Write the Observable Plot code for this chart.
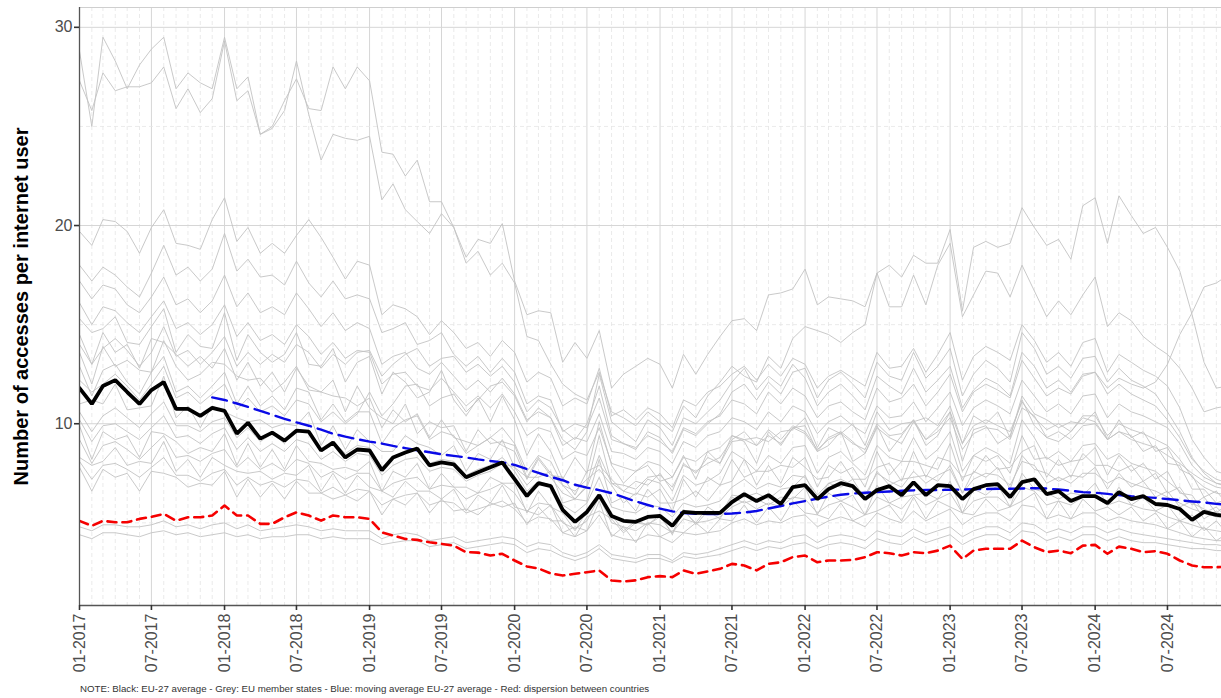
<!DOCTYPE html>
<html><head><meta charset="utf-8">
<script src="https://cdn.jsdelivr.net/npm/d3@7"></script>
<script src="https://cdn.jsdelivr.net/npm/@observablehq/plot@0.6"></script>
<style>
body{margin:0;background:#fff;font-family:"Liberation Sans",Arial,sans-serif;}
#note{font-size:9.7px;color:#333;margin-left:80px;margin-top:5px;white-space:nowrap;}
</style></head><body>
<div id="chart"></div>
<div id="note">NOTE: Black: EU-27 average - Grey: EU member states - Blue: moving average EU-27 average - Red: dispersion between countries</div>
<script>
// ---- labels ----
const yTitle = "Number of accesses per internet user";
const xTickLabels = ["01-2017","07-2017","01-2018","07-2018","01-2019","07-2019","01-2020","07-2020","01-2021","07-2021","01-2022","07-2022","01-2023","07-2023","01-2024","07-2024"];
const yTicks = [10, 20, 30];
const yMinor = [5, 15, 25];
const firstMonth = "01-2017";
const blueFirstMonth = "12-2017";

// ---- EU-27 average (black) ----
const euAverage = [
11.8,11.0,11.9,12.2,11.6,11.0,11.7,12.1,10.75,10.75,10.4,10.8,
10.65,9.5,10.05,9.25,9.55,9.15,9.65,9.6,8.65,9.05,8.3,8.7,
8.65,7.65,8.3,8.55,8.75,7.9,8.05,7.95,7.3,7.55,7.8,8.05,
7.2,6.35,7.0,6.85,5.65,5.05,5.55,6.4,5.35,5.1,5.05,5.3,
5.35,4.85,5.55,5.5,5.5,5.5,6.05,6.45,6.1,6.4,5.95,6.8,
6.9,6.2,6.7,7.0,6.85,6.2,6.65,6.85,6.4,7.05,6.4,6.9,
6.85,6.2,6.7,6.9,6.95,6.3,7.05,7.2,6.45,6.6,6.1,6.35,
6.35,6.0,6.55,6.2,6.35,5.95,5.9,5.7,5.15,5.55,5.4,5.35];

// ---- moving average (blue), from 12-2017 ----
const movingAverage = [
11.33,11.2,11.02,10.85,10.65,10.45,10.25,10.07,9.9,9.7,9.5,9.35,9.22,
9.1,9.0,8.88,8.77,8.66,8.56,8.46,8.38,8.3,8.2,8.12,8.05,
7.92,7.72,7.52,7.32,7.15,6.92,6.78,6.65,6.5,6.3,6.08,5.9,
5.72,5.58,5.5,5.46,5.45,5.45,5.47,5.52,5.6,5.72,5.85,5.98,
6.1,6.22,6.32,6.42,6.48,6.52,6.55,6.58,6.62,6.64,6.66,6.66,
6.67,6.68,6.7,6.71,6.72,6.72,6.73,6.75,6.73,6.68,6.62,6.55,
6.52,6.46,6.4,6.34,6.3,6.26,6.2,6.14,6.08,6.03,5.96,5.9];

// ---- dispersion (red) ----
const dispersion = [
5.1,4.85,5.1,5.03,5.03,5.2,5.3,5.45,5.11,5.28,5.28,5.37,
5.87,5.37,5.37,4.95,4.95,5.28,5.53,5.37,5.11,5.37,5.28,5.28,
5.2,4.52,4.36,4.19,4.14,4.02,3.94,3.85,3.52,3.5,3.35,3.44,
3.1,2.8,2.7,2.45,2.34,2.43,2.51,2.6,2.09,2.04,2.1,2.26,
2.31,2.26,2.6,2.43,2.55,2.68,2.93,2.85,2.6,2.93,3.01,3.27,
3.35,3.01,3.1,3.1,3.13,3.27,3.52,3.47,3.35,3.52,3.47,3.6,
3.85,3.18,3.6,3.69,3.69,3.69,4.1,3.77,3.52,3.6,3.47,3.85,
3.89,3.44,3.8,3.69,3.52,3.57,3.44,3.1,2.85,2.76,2.76,2.8];

// ---- member states (grey) ----
const countries = ["A","B","C","D","E","F","G","H","I","J","K","L","M","N","O","P","Q","R","S","T","U","V"];
const sA = [28.8,25.0,29.5,28.3,26.9,28.1,28.9,29.5,26.9,27.7,27.2,26.9,
29.5,26.9,27.5,24.6,25.0,26.3,27.4,25.9,25.8,28.0,26.9,28.0,
27.3,23.7,23.6,22.5,23.3,21.2,21.2,19.9,18.4,19.3,19.1,20.1,
17.2,15.5,15.7,15.6,13.1,14.1,13.3,14.7,11.8,12.5,12.9,13.3,
13.0,11.8,13.5,12.5,13.5,14.4,15.2,15.3,14.7,16.5,16.6,16.8,
17.8,16.0,16.4,16.3,16.2,15.9,17.6,18.0,17.4,18.5,18.1,18.1,
19.8,15.7,18.9,19.2,18.9,19.1,20.9,19.9,19.0,19.3,18.3,21.0,
21.4,19.1,21.5,20.5,19.6,19.9,18.9,17.7,15.5,13.1,11.8,11.9];
const sB = [27.3,25.8,27.7,26.8,27.0,27.0,27.2,28.0,25.9,26.9,25.7,26.4,
29.3,26.3,26.8,24.6,24.9,25.8,28.3,25.6,23.3,24.6,24.4,24.3,
24.5,21.3,22.1,20.8,20.2,19.6,20.6,19.9,18.1,18.7,17.5,18.1,
17.1,14.4,14.2,13.0,12.0,11.5,11.2,12.6,10.6,10.3,9.9,10.6,
10.1,9.6,10.9,10.3,11.4,12.1,12.9,12.4,12.1,13.4,12.8,14.3,
14.9,14.7,14.5,14.1,14.6,15.0,17.6,15.9,15.9,17.5,16.0,18.0,
19.1,15.4,16.5,17.7,17.6,16.4,18.0,16.7,15.4,16.2,15.5,16.5,
17.4,14.9,15.6,15.2,14.4,13.9,13.5,12.8,11.8,10.6,10.8,10.9];
const sC = [19.7,19.0,20.3,20.2,19.7,18.6,19.9,20.8,19.1,19.0,18.8,20.3,
21.4,19.2,19.9,18.6,19.1,18.6,19.5,20.3,19.4,18.4,17.3,18.2,
18.0,15.5,16.0,15.8,15.4,14.5,15.2,14.6,13.8,14.1,13.4,14.2,
13.6,12.1,12.6,12.3,10.9,11.3,11.0,12.8,10.4,10.7,10.2,10.8,
10.5,9.8,11.2,10.9,11.6,11.9,12.5,12.9,12.2,13.0,12.4,13.3,
13.0,11.8,12.4,12.7,12.3,11.9,13.6,12.8,12.9,13.8,12.6,13.5,
14.6,12.2,13.4,13.9,13.6,13.2,15.0,14.2,13.1,13.6,12.9,14.1,
14.3,12.6,13.5,13.1,12.7,12.4,11.9,10.8,9.2,8.3,7.6,7.4];
const sD = [18.0,17.2,17.9,17.5,16.9,16.4,17.6,19.0,17.5,17.9,17.2,17.8,
19.6,17.7,18.3,17.4,17.5,17.0,18.2,17.1,16.4,17.2,16.3,16.5,
16.3,14.6,14.8,15.1,14.0,14.2,14.6,13.5,12.9,13.4,12.6,13.3,
12.6,11.0,11.4,11.2,9.6,10.0,9.8,11.3,9.2,9.0,8.8,9.4,
9.1,8.6,9.8,9.5,10.1,10.4,11.2,11.0,10.5,11.6,11.0,11.8,
11.4,10.3,10.9,11.1,10.6,10.2,11.8,11.1,11.3,12.0,10.9,11.6,
12.5,10.6,11.6,12.0,11.7,11.3,13.2,12.3,11.4,11.8,11.5,12.4,
12.6,11.8,12.3,12.0,11.8,12.1,13.0,14.5,15.6,16.9,17.1,17.5];
const sE = [17.2,16.3,17.0,16.8,16.0,15.6,16.4,17.4,16.0,16.3,15.6,16.2,
17.5,15.9,16.6,15.6,15.9,15.5,16.6,15.8,14.9,15.6,14.7,15.1,
14.8,13.0,13.4,13.6,12.8,12.5,13.1,12.4,11.7,12.2,11.6,12.3,
11.5,10.2,10.6,10.3,8.9,9.3,9.1,10.5,8.6,8.5,8.2,8.8,
8.6,8.0,9.1,8.8,9.4,9.6,10.3,10.1,9.7,10.6,10.1,10.9,
10.6,9.5,10.1,10.4,9.9,9.5,10.9,10.3,10.4,11.1,10.1,10.8,
11.6,9.9,10.8,11.2,10.9,10.5,12.2,11.4,10.6,11.0,10.5,11.4,
11.5,10.3,11.0,10.6,10.4,10.1,9.8,9.0,7.9,7.3,7.0,6.9];
const sF = [16.1,15.0,15.9,15.7,15.1,14.6,15.4,16.2,14.8,15.1,14.5,15.0,
16.0,14.4,15.1,14.2,14.5,14.0,15.0,14.4,13.5,14.1,13.3,13.7,
13.6,12.0,12.5,12.6,11.9,11.7,12.3,11.6,10.9,11.4,10.8,11.5,
10.6,9.4,9.8,9.6,8.2,8.6,8.4,9.8,8.0,7.8,7.6,8.1,
7.9,7.3,8.3,8.1,8.6,8.8,9.4,9.2,8.9,9.7,9.2,9.9,
9.6,8.7,9.2,9.5,9.0,8.7,10.0,9.4,9.5,10.2,9.2,9.8,
10.6,9.0,9.9,10.2,9.9,9.6,11.1,10.3,9.7,10.0,9.6,10.4,
10.4,9.4,10.0,9.7,9.5,9.2,8.9,8.2,7.3,6.8,6.5,6.4];
const sG = [15.3,14.6,14.8,15.4,14.1,14.0,14.9,15.8,13.6,14.5,13.9,13.8,
15.6,13.2,14.5,13.6,13.1,13.5,14.6,13.0,12.9,13.8,12.1,13.1,
13.4,11.5,12.6,12.1,11.3,11.6,12.7,11.2,10.4,11.3,10.1,11.4,
10.2,8.4,9.5,8.6,7.2,8.3,7.5,10.1,7.9,7.0,7.6,7.9,
7.1,7.3,8.4,7.2,8.6,8.0,9.4,9.1,8.0,9.6,8.9,9.8,
9.5,8.6,8.9,9.6,8.1,8.5,9.9,8.6,9.4,10.2,8.9,9.4,
10.6,8.1,9.7,9.9,9.0,9.4,11.2,9.9,9.3,9.1,9.6,10.3,
10.1,9.2,9.6,9.4,8.6,8.9,8.0,7.9,6.7,6.7,6.0,6.2];
const sH = [14.5,13.0,14.6,13.6,14.0,12.8,14.3,14.1,13.5,12.9,13.4,12.8,
13.8,12.2,13.1,11.9,12.6,11.6,12.8,11.9,11.6,11.4,11.3,10.9,
11.3,9.8,10.7,10.1,10.5,9.3,10.2,9.3,9.1,8.9,9.3,8.9,
8.6,7.2,8.2,7.4,7.3,6.4,7.6,7.9,7.2,6.6,7.1,6.9,
7.5,6.6,8.0,7.5,8.3,8.0,9.1,9.2,9.3,9.1,9.6,9.7,
10.3,8.8,9.8,9.5,10.0,8.9,10.6,9.7,10.0,10.1,10.3,9.9,
10.9,9.0,10.4,10.0,10.6,9.3,11.4,10.5,10.2,9.8,10.1,10.0,
10.6,9.2,10.2,9.3,9.6,8.6,8.8,7.7,7.4,6.3,6.6,5.9];
const sI = [13.6,12.0,13.9,12.9,13.2,12.7,12.6,14.2,12.9,12.2,12.5,13.1,
13.0,12.4,12.2,12.3,11.6,12.1,12.9,11.7,11.6,12.2,10.6,11.9,
10.8,10.3,10.0,11.0,9.5,10.1,9.8,9.9,8.6,9.7,9.0,9.1,
8.9,7.3,8.3,7.5,6.9,6.6,7.2,7.7,6.9,6.0,6.5,6.3,
6.7,5.6,7.2,6.3,7.3,6.9,8.2,7.3,7.6,7.6,7.9,7.8,
8.3,6.8,7.9,7.5,7.8,6.8,8.6,7.4,8.1,8.1,7.9,7.7,
9.0,7.1,8.4,8.1,8.4,7.5,9.4,8.2,8.3,7.9,8.1,8.2,
8.8,7.4,8.4,7.6,8.0,7.2,7.6,6.5,6.4,5.5,5.8,5.2];
const sJ = [12.9,11.4,12.7,13.0,12.1,11.5,12.6,13.4,11.6,11.9,11.3,11.9,
12.6,11.0,11.9,10.9,11.4,10.7,11.8,11.6,10.2,11.0,10.1,10.6,
10.6,9.0,9.8,10.2,10.4,9.2,9.6,9.4,8.5,8.9,9.3,9.8,
9.0,7.6,8.4,8.1,6.9,6.2,6.9,9.4,7.0,6.6,6.4,7.2,
7.0,6.1,7.4,6.9,7.1,7.5,8.6,8.2,7.6,8.4,8.0,8.8,
8.9,7.5,8.3,8.6,8.0,7.4,8.9,8.3,8.1,9.3,8.2,8.7,
9.6,7.6,8.4,8.8,8.5,8.0,10.2,9.3,8.2,8.6,8.1,8.9,
9.0,8.2,8.5,8.0,7.8,7.6,7.1,6.6,6.0,5.7,5.4,5.5];
const sK = [11.0,11.2,11.0,12.0,10.7,10.8,10.9,12.4,10.3,10.9,9.8,10.9,
10.6,10.3,10.1,10.2,9.8,10.0,9.9,10.6,8.9,9.9,8.7,9.7,
9.1,8.6,8.6,9.4,9.0,8.8,8.4,8.9,7.6,8.5,8.2,9.2,
7.8,7.3,7.3,7.6,6.0,6.2,6.1,8.2,6.0,6.3,5.6,6.7,
6.0,6.0,6.2,6.6,6.1,6.9,7.1,8.2,6.9,7.9,7.0,8.3,
7.8,7.2,7.3,8.1,7.2,7.2,7.8,8.0,7.1,8.6,7.3,8.3,
8.1,7.3,7.5,8.4,7.7,7.8,8.6,8.9,7.3,8.2,7.3,8.5,
7.9,7.9,7.6,7.9,7.1,7.5,6.5,6.8,5.9,6.3,5.5,6.0];
const sL = [10.6,9.6,10.4,10.8,10.3,9.8,10.5,11.1,9.9,9.9,9.6,10.1,
10.3,9.3,9.8,9.1,9.5,9.0,9.7,9.6,8.7,9.1,8.5,8.9,
8.8,7.8,8.3,8.6,8.8,8.0,8.2,8.1,7.4,7.7,7.9,8.3,
7.6,6.6,7.1,6.9,5.9,5.5,6.0,7.3,5.8,5.6,5.5,5.9,
5.8,5.3,6.0,5.8,5.9,6.1,6.8,7.2,6.7,7.0,6.8,7.4,
7.3,6.4,7.0,7.2,6.9,6.4,7.5,7.1,6.8,7.6,7.0,7.4,
7.7,6.5,7.2,7.5,7.4,6.9,8.1,7.9,7.0,7.3,7.0,7.5,
7.5,7.0,7.3,7.0,6.8,6.6,6.3,6.0,5.7,5.5,5.3,5.2];
const sM = [10.2,9.1,9.9,10.0,9.6,9.2,9.8,10.4,9.3,9.4,9.0,9.5,
9.8,8.7,9.3,8.6,9.0,8.6,9.2,9.0,8.2,8.6,8.1,8.5,
8.4,7.4,7.9,8.2,8.3,7.6,7.8,7.7,7.1,7.4,7.6,8.0,
7.8,6.9,7.5,7.3,6.5,6.2,6.8,8.4,7.0,6.9,6.7,7.3,
7.4,6.8,7.9,7.6,8.0,8.3,9.2,9.6,8.9,9.4,9.0,9.8,
9.9,8.6,9.3,9.6,9.1,8.5,9.8,9.3,9.0,10.1,9.2,9.6,
10.3,8.7,9.5,9.8,9.7,9.2,10.8,10.4,9.3,9.6,9.2,9.9,
10.0,9.2,9.6,9.2,9.0,8.8,8.4,8.0,7.5,7.1,6.8,6.7];
const sN = [9.9,8.2,9.6,9.2,9.4,8.3,9.6,9.5,9.1,8.5,8.8,8.6,
9.5,7.9,9.0,7.8,8.7,7.7,8.9,8.1,8.0,7.7,7.8,7.6,
8.1,6.6,7.6,7.3,8.0,6.7,7.5,6.8,6.8,6.5,7.3,7.0,
7.0,5.5,6.6,5.8,5.5,4.6,5.6,6.2,5.4,4.6,5.1,4.9,
5.4,4.4,5.7,4.9,5.6,5.2,6.3,6.0,6.2,5.9,6.3,6.2,
6.8,5.4,6.5,6.1,6.4,5.4,6.9,6.0,6.3,6.4,6.5,6.2,
7.1,5.5,6.7,6.4,6.9,5.8,7.5,6.7,6.5,6.2,6.5,6.4,
7.0,5.9,6.8,5.9,6.3,5.6,5.9,5.1,5.4,4.6,5.1,4.4];
const sO = [9.2,8.0,8.9,9.1,8.7,8.2,8.8,9.4,8.3,8.4,8.1,8.5,
8.7,7.8,8.3,7.7,8.0,7.6,8.2,8.0,7.3,7.6,7.2,7.5,
7.5,6.6,7.0,7.2,7.3,6.7,6.9,6.8,6.2,6.5,6.7,7.0,
6.5,5.6,6.0,5.9,5.0,4.7,5.1,6.3,5.0,4.8,4.6,5.0,
4.9,4.5,5.2,5.0,5.1,5.3,5.8,6.1,5.7,6.0,5.8,6.3,
6.2,5.5,5.9,6.1,5.8,5.4,6.3,6.0,5.7,6.4,5.9,6.2,
6.5,5.5,6.1,6.3,6.3,5.8,6.8,6.6,5.9,6.1,5.9,6.3,
6.3,5.9,6.1,5.9,5.7,5.6,5.3,5.1,4.9,4.7,4.6,4.5];
const sP = [8.3,7.9,8.1,8.8,7.9,8.1,8.0,9.1,7.6,8.2,7.3,8.3,
7.9,7.6,7.5,7.6,7.2,7.5,7.4,7.9,6.6,7.5,6.5,7.4,
6.8,6.6,6.3,7.1,6.6,6.6,6.2,6.7,5.6,6.4,6.0,6.9,
5.8,5.6,5.4,5.9,4.5,4.8,4.6,6.1,4.3,4.8,4.0,5.0,
4.3,4.6,4.5,5.0,4.5,5.2,5.1,5.9,5.0,5.8,5.1,6.1,
5.5,5.4,5.2,6.0,5.1,5.4,5.6,5.9,5.1,6.3,5.2,6.1,
5.8,5.5,5.4,6.2,5.6,5.8,6.1,6.5,5.2,6.1,5.2,6.2,
5.6,5.8,5.4,5.8,5.1,5.5,4.7,5.1,4.3,4.8,4.1,4.5];
const sQ = [8.1,7.2,7.9,8.0,7.7,7.3,7.8,8.3,7.4,7.4,7.1,7.5,
7.7,6.9,7.3,6.9,7.1,6.8,7.2,7.1,6.5,6.8,6.4,6.7,
6.6,5.9,6.2,6.4,6.5,5.9,6.1,6.0,5.5,5.7,5.9,6.1,
5.7,5.0,5.3,5.2,4.5,4.3,4.6,5.4,4.4,4.2,4.1,4.4,
4.3,4.0,4.5,4.4,4.5,4.6,5.0,5.2,4.9,5.1,5.0,5.3,
5.4,4.8,5.1,5.3,5.1,4.8,5.5,5.2,5.0,5.6,5.1,5.4,
5.7,4.9,5.3,5.5,5.5,5.1,5.9,5.8,5.2,5.4,5.2,5.5,
5.5,5.1,5.3,5.1,5.0,4.9,4.7,4.5,4.3,4.2,4.1,4.1];
const sR = [7.8,6.6,7.7,7.3,7.5,6.6,7.6,7.5,7.3,6.8,7.0,6.9,
7.6,6.3,7.2,6.3,7.0,6.2,7.1,6.5,6.5,6.2,6.4,6.1,
6.6,5.4,6.2,5.9,6.5,5.5,6.2,5.6,5.7,5.4,6.0,5.8,
6.0,4.9,5.8,5.1,5.1,4.3,5.3,5.6,5.2,4.5,5.0,4.9,
5.3,4.5,5.6,5.0,5.8,5.4,6.4,6.3,6.5,6.2,6.7,6.8,
7.4,6.1,7.0,6.8,7.2,6.2,7.6,6.9,7.2,7.3,7.4,7.1,
7.9,6.5,7.6,7.3,7.8,6.7,8.4,7.7,7.5,7.1,7.4,7.3,
7.8,6.7,7.5,6.8,7.1,6.3,6.6,5.8,6.1,5.2,5.6,5.0];
const sS = [4.8,4.6,4.9,4.9,4.8,4.8,4.9,5.1,4.8,4.9,4.7,4.9,
5.0,4.7,4.9,4.6,4.7,4.8,4.9,4.8,4.6,4.7,4.6,4.6,
4.6,4.2,4.4,4.5,4.4,4.1,4.2,4.3,4.0,4.1,4.2,4.3,
4.2,3.8,4.0,3.9,3.5,3.3,3.5,3.9,3.4,3.3,3.2,3.4,
3.4,3.1,3.5,3.4,3.5,3.7,3.9,4.1,3.9,4.1,4.0,4.3,
4.4,4.0,4.3,4.4,4.3,4.1,4.6,4.4,4.3,4.7,4.4,4.6,
4.8,4.3,4.6,4.8,4.8,4.5,5.0,4.9,4.5,4.7,4.5,4.8,
4.8,4.5,4.7,4.5,4.4,4.3,4.2,4.1,4.0,3.9,3.9,3.8];
const sT = [4.4,4.2,4.5,4.5,4.4,4.3,4.5,4.6,4.4,4.5,4.3,4.4,
4.5,4.3,4.4,4.2,4.3,4.3,4.4,4.4,4.2,4.3,4.2,4.2,
4.2,3.9,4.0,4.1,4.1,3.8,3.9,4.0,3.7,3.8,3.9,4.0,
3.9,3.5,3.7,3.6,3.3,3.1,3.3,3.7,3.2,3.1,3.0,3.2,
3.2,3.0,3.3,3.2,3.3,3.4,3.6,3.8,3.6,3.8,3.7,3.9,
4.0,3.7,3.9,4.0,3.9,3.7,4.2,4.0,3.9,4.3,4.0,4.2,
4.4,3.9,4.2,4.4,4.4,4.1,4.6,4.5,4.1,4.3,4.1,4.4,
4.4,4.1,4.3,4.1,4.0,4.0,3.9,3.8,3.7,3.7,3.6,3.6];
const sU = [12.2,11.6,12.0,12.5,11.9,11.2,12.0,12.9,11.3,11.6,11.0,11.5,
12.0,10.7,11.3,10.6,10.9,10.4,11.2,11.0,10.1,10.6,10.0,10.5,
11.6,10.4,11.0,11.9,12.0,10.9,11.3,11.5,10.6,11.2,11.9,12.1,
11.4,10.1,10.8,10.3,9.2,8.7,9.6,12.5,10.1,9.6,9.1,10.2,
9.8,8.9,10.3,10.0,10.6,11.2,12.1,12.8,11.7,12.4,11.9,13.0,
12.3,10.9,11.6,12.0,11.4,10.7,12.4,11.9,11.5,12.8,11.6,12.2,
12.9,10.8,11.7,12.3,12.0,11.4,13.6,12.9,11.8,12.2,11.6,12.5,
12.6,11.5,12.0,11.5,11.2,10.9,10.2,9.3,8.2,7.6,7.2,7.0];
const sV = [14.0,13.0,13.8,14.3,13.7,12.9,13.6,14.9,13.4,13.7,13.0,13.6,
14.4,12.9,13.6,13.0,13.5,13.1,14.0,13.6,12.8,13.5,13.0,13.6,
13.7,12.4,13.0,13.5,13.8,12.9,13.3,13.4,12.6,13.0,12.4,12.9,
12.1,10.6,11.2,10.8,9.7,9.2,10.0,11.9,9.4,9.0,8.7,9.6,
9.3,8.5,9.7,9.4,10.0,10.5,11.6,12.0,11.2,12.1,11.5,12.6,
12.8,11.3,12.2,12.6,12.0,11.3,13.1,12.4,12.2,13.6,12.3,12.9,
13.8,11.4,12.5,13.2,12.8,12.1,14.6,13.8,12.5,12.9,12.3,13.3,
13.4,12.1,12.8,12.2,11.9,11.5,10.6,9.6,8.3,7.5,7.0,6.8];
const memberStates = [sA,sB,sC,sD,sE,sF,sG,sH,sI,sJ,sK,sL,sM,sN,sO,sP,sQ,sR,sS,sT,sU,sV];

// ---- build tables ----
const parseMY = d3.utcParse("%m-%Y");
const start = parseMY(firstMonth);
const months = d3.utcMonth.range(start, d3.utcMonth.offset(start, 96));
const blueStart = months.findIndex(d => +d === +parseMY(blueFirstMonth));
const xEnd = new Date(Date.UTC(2024, 10, 14));
const xDomain = [start, xEnd];
const majorX = xTickLabels.map(parseMY);
const majorSet = new Set(majorX.map(Number));
const minorX = months.filter(d => d < xEnd && !majorSet.has(+d));
const yDomain = [0.83, 31];

const greyRows = memberStates.flatMap((s, k) => s.map((v, i) => ({country: countries[k], date: months[i], value: v})));
const blackRows = euAverage.map((v, i) => ({date: months[i], value: v}));
const redRows = dispersion.map((v, i) => ({date: months[i], value: v}));
const blueRows = movingAverage.map((v, i) => ({date: months[blueStart + i], value: v}));

const chart = Plot.plot({
  width: 1221, height: 678,
  marginLeft: 79, marginRight: 0, marginTop: 7, marginBottom: 73,
  x: {type: "utc", domain: xDomain},
  y: {domain: yDomain},
  style: {fontFamily: "'Liberation Sans', Arial, sans-serif", background: "#fff"},
  marks: [
    Plot.ruleX(minorX, {stroke: "#e4e4e4", strokeDasharray: "4,3", strokeWidth: 0.8}),
    Plot.ruleX(majorX, {stroke: "#d6d6d6", strokeWidth: 1}),
    Plot.ruleY(yMinor, {stroke: "#e4e4e4", strokeDasharray: "4,3", strokeWidth: 0.8}),
    Plot.ruleY(yTicks, {stroke: "#d6d6d6", strokeWidth: 1}),
    Plot.line(greyRows, {x: "date", y: "value", z: "country", stroke: "#c3c3c3", strokeWidth: 0.9, clip: true}),
    Plot.line(redRows, {x: "date", y: "value", stroke: "#f50000", strokeWidth: 2.6, strokeDasharray: "9,6", clip: true}),
    Plot.line(blueRows, {x: "date", y: "value", stroke: "#0a0ae6", strokeWidth: 2.4, strokeDasharray: "15,7", clip: true}),
    Plot.line(blackRows, {x: "date", y: "value", stroke: "#000", strokeWidth: 3.8, strokeLinejoin: "miter", clip: true}),
    Plot.frame({stroke: "#cfcfcf"}),
    Plot.ruleX([xDomain[0]], {stroke: "#555", strokeWidth: 1.3}),
    Plot.ruleY([yDomain[0]], {stroke: "#555", strokeWidth: 1.3}),
    Plot.axisY(yTicks, {tickSize: 5, tickPadding: 2, fontSize: 16, fill: "#4d4d4d", stroke: "#333", strokeWidth: 1.6, label: null}),
    Plot.axisX(majorX, {tickSize: 5, tickPadding: 3, tickRotate: -90, tickFormat: d3.utcFormat("%m-%Y"), fontSize: 16, fill: "#4d4d4d", stroke: "#333", strokeWidth: 1.6, label: null}),
    Plot.text([yTitle], {frameAnchor: "left", textAnchor: "middle", rotate: -90, dx: -58, fontWeight: "bold", fontSize: 20, fill: "#000"})
  ]
});
document.getElementById("chart").appendChild(chart);
</script>
</body></html>
